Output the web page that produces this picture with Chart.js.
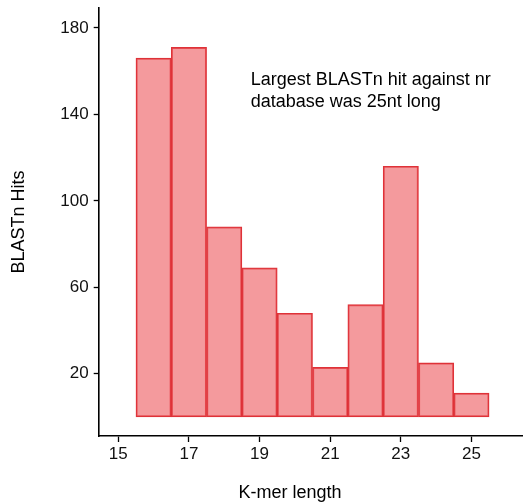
<!DOCTYPE html>
<html>
<head>
<meta charset="utf-8">
<script src="https://cdn.jsdelivr.net/npm/chart.js@4/dist/chart.umd.min.js"></script>
<style>
html,body{margin:0;padding:0;background:#fff;}
#wrap{width:523px;height:503px;position:relative;}
</style>
</head>
<body>
<div id="wrap"><canvas id="c" width="523" height="503"></canvas></div>
<script>
const kmerLengths = [16, 17, 18, 19, 20, 21, 22, 23, 24, 25];
const blastHits = [166, 171, 88, 69, 48, 23, 52, 116, 25, 11];
const xTickValues = [15, 17, 19, 21, 23, 25];
const yTickValues = [20, 60, 100, 140, 180];
const xTitle = 'K-mer length';
const yTitle = 'BLASTn Hits';
const noteLines = ['Largest BLASTn hit against nr', 'database was 25nt long'];

const FONT = '"Liberation Sans", Arial, Helvetica, sans-serif';

const overlay = {
  id: 'overlay',
  afterDraw(chart) {
    const ctx = chart.ctx;
    const xs = chart.scales.x, ys = chart.scales.y;
    ctx.save();
    ctx.fillStyle = '#000';
    ctx.font = '18px ' + FONT;
    ctx.textBaseline = 'alphabetic';
    ctx.textAlign = 'left';
    const nx = xs.getPixelForValue(18.75);
    const ny = ys.getPixelForValue(153.5);
    noteLines.forEach((t, i) => ctx.fillText(t, nx, ny + i * 22));
    ctx.textAlign = 'center';
    ctx.fillText(xTitle, 290, 498);
    ctx.restore();
  }
};

new Chart(document.getElementById('c'), {
  type: 'bar',
  data: {
    datasets: [{
      data: kmerLengths.map((k, i) => ({x: k, y: blastHits[i]})),
      backgroundColor: 'rgba(238,100,104,0.65)',
      borderColor: 'rgb(222,50,56)',
      borderWidth: 1.3,
      barPercentage: 1,
      categoryPercentage: 1,
      borderSkipped: false
    }]
  },
  plugins: [overlay],
  options: {
    responsive: false,
    animation: false,
    layout: {padding: {left: 0, right: 0, top: 8, bottom: 0}},
    plugins: {legend: {display: false}, tooltip: {enabled: false}},
    scales: {
      x: {
        type: 'linear',
        min: 14.445,
        max: 26.46,
        offset: false,
        afterBuildTicks(s) { s.ticks = xTickValues.map(v => ({value: v})); },
        afterFit(s) { s.height = 67; s.paddingLeft = 0; s.paddingRight = 0; },
        grid: {offset: false, drawOnChartArea: false, drawTicks: true, tickLength: 6, tickColor: '#000', tickWidth: 1.3},
        border: {display: true, color: '#000', width: 1.6},
        ticks: {color: '#111', font: {family: FONT, size: 17}, padding: 2, maxRotation: 0, autoSkip: false}
      },
      y: {
        min: -8.8,
        max: 189.2,
        afterBuildTicks(s) { s.ticks = yTickValues.map(v => ({value: v})); },
        afterFit(s) { s.width = 98.7; s.paddingTop = 0; s.paddingBottom = 0; },
        grid: {drawOnChartArea: false, drawTicks: true, tickLength: 5, tickColor: '#000', tickWidth: 1.3},
        border: {display: true, color: '#000', width: 1.6},
        title: {display: true, text: yTitle, color: '#000', font: {family: FONT, size: 18}, padding: {top: 8, bottom: 0}},
        ticks: {color: '#111', font: {family: FONT, size: 17}, padding: 5}
      }
    }
  }
});
</script>
</body>
</html>
